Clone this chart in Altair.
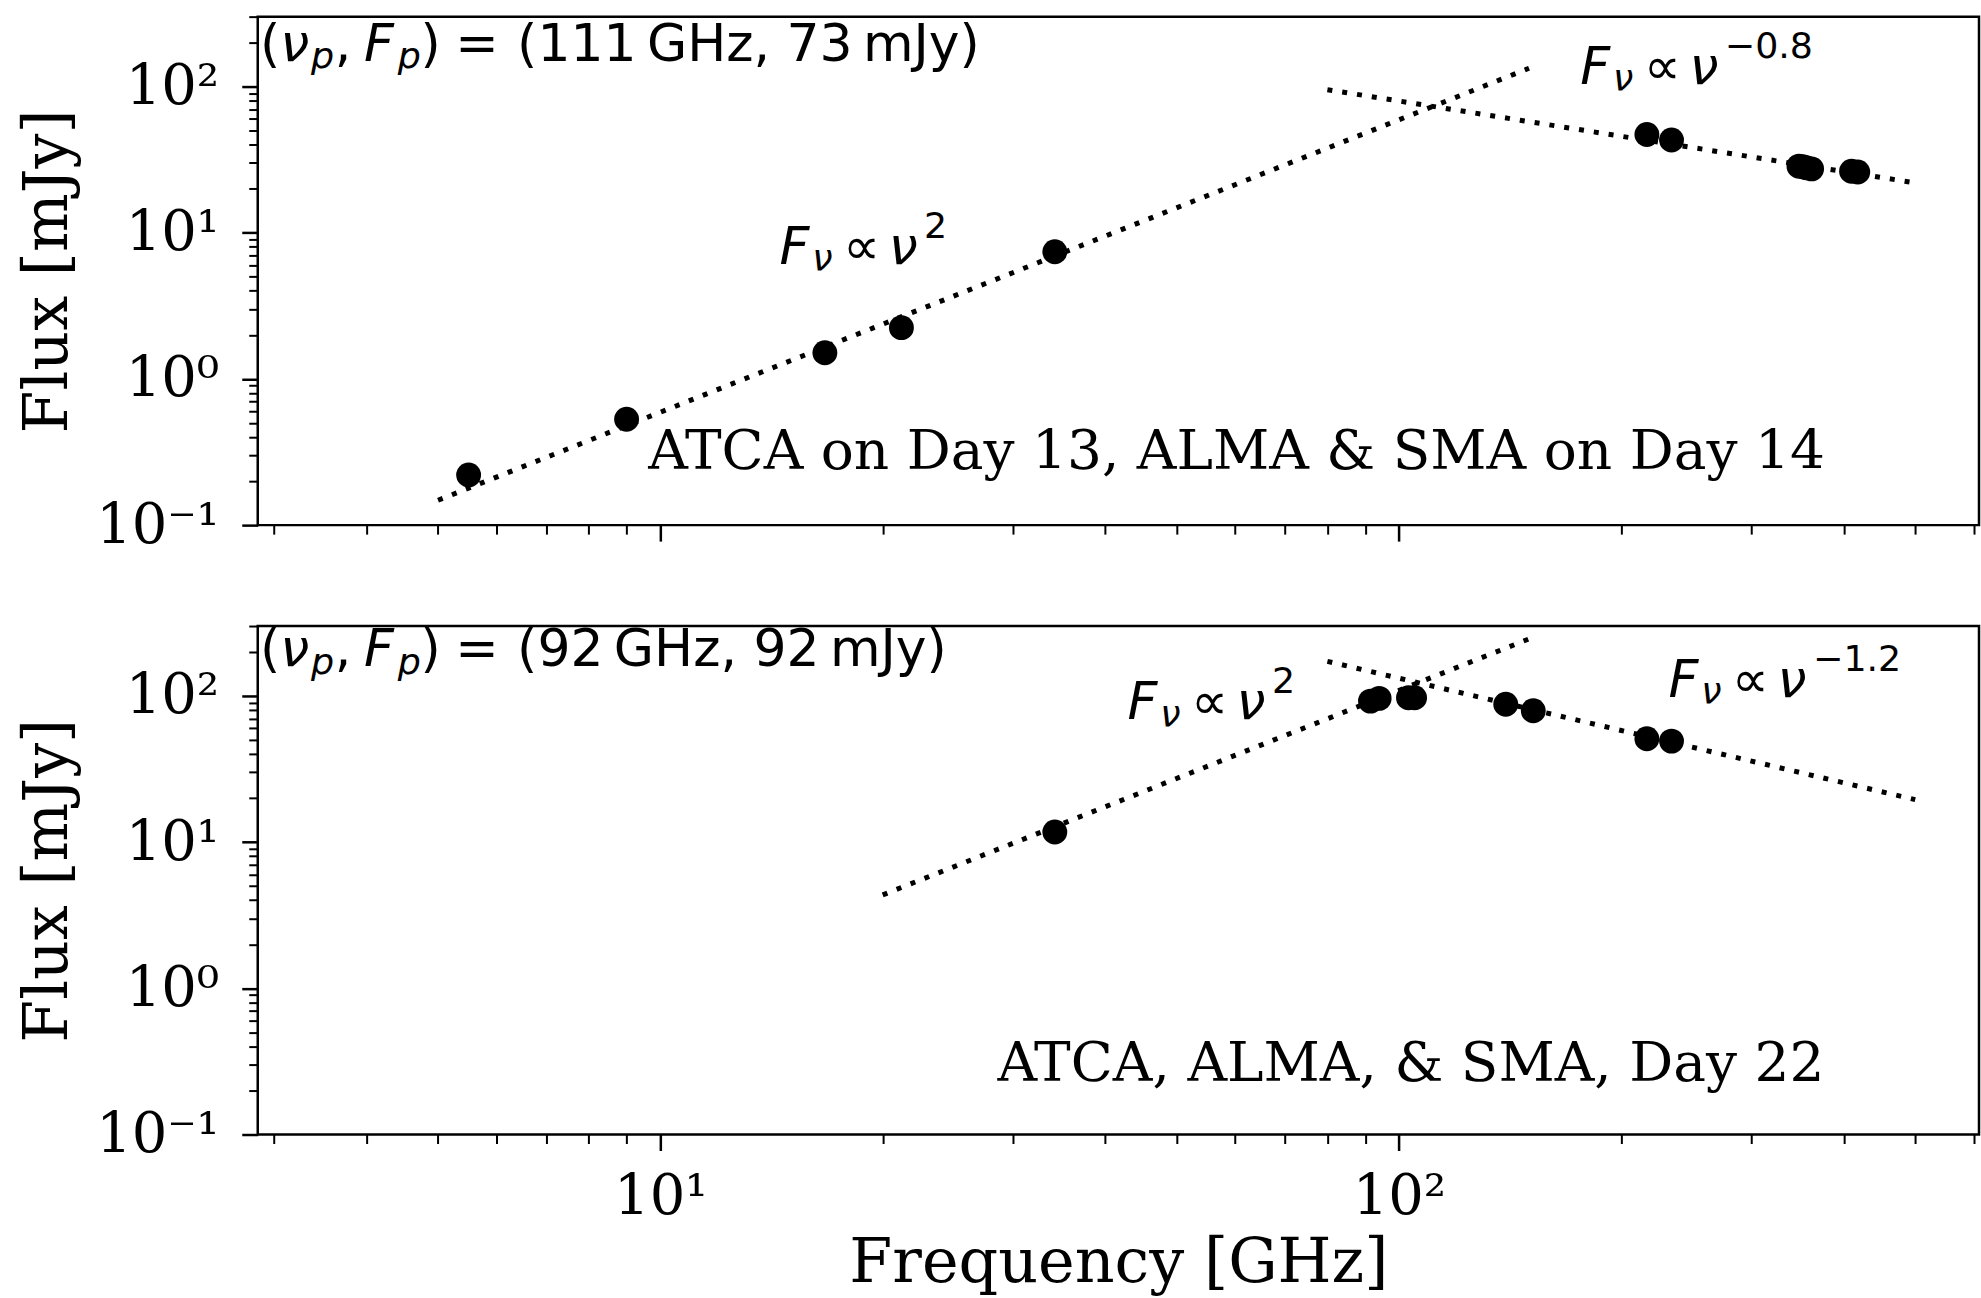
import altair as alt
import pandas as pd

# ---------------- data ----------------
top_freq = [5.5, 9.0, 16.7, 21.2, 34.2, 216.6, 233.9, 348, 352, 356, 362, 410, 418]
top_flux = [0.22, 0.53, 1.51, 2.24, 7.4, 46.9, 43.0, 28.5, 28.2, 27.8, 27.3, 26.3, 26.0]

bot_freq = [34.2, 91.5, 94.0, 103.0, 105.0, 139.5, 152.0, 216.6, 233.9]
bot_flux = [11.7, 92.0, 96.0, 97.0, 97.0, 87.5, 79.0, 50.8, 49.0]

# power-law guide lines (end points)
top_rise_freq = [5, 150]
top_rise_flux = [0.148, 133]
top_fall_freq = [80, 500]
top_fall_flux = [95, 21.9]
bot_rise_freq = [20, 150]
bot_rise_flux = [4.35, 245]
bot_fall_freq = [80, 500]
bot_fall_flux = [172, 19.5]

# axis ticks
x_ticks = [3, 4, 5, 6, 7, 8, 9, 10, 20, 30, 40, 50, 60, 70, 80, 90, 100,
           200, 300, 400, 500, 600]
y_ticks = [0.1, 0.2, 0.3, 0.4, 0.5, 0.6, 0.7, 0.8, 0.9, 1, 2, 3, 4, 5, 6, 7, 8, 9,
           10, 20, 30, 40, 50, 60, 70, 80, 90, 100, 200, 300]

X_DOMAIN = [2.85, 610]
Y_DOMAIN = [0.1, 300]

# annotation anchors (freq, flux)
top_peak_anchor = (2.87, 192)
top_rise_anchor = (14.5, 7.9)
top_fall_anchor = (176, 134)
top_note_anchor = (9.63, 0.315)
bot_peak_anchor = (2.87, 205)
bot_rise_anchor = (42.9, 88.9)
bot_fall_anchor = (231.7, 126.7)
bot_note_anchor = (28.6, 0.304)

top_peak_value = "(111\u2009GHz, 73\u2009mJy)"
bot_peak_value = "(92\u2009GHz, 92\u2009mJy)"
top_note = "ATCA on Day 13, ALMA & SMA on Day 14"
bot_note = "ATCA, ALMA, & SMA, Day 22"

# ---------------- styling ----------------
SERIF = "DejaVu Serif"
SANS = "DejaVu Sans"
TICK_FS = 56
TITLE_FS = 62
MATH_FS = 52
NOTE_FS = 55
W, H = 1723, 509

xscale = alt.Scale(type="log", domain=X_DOMAIN, nice=False)
yscale = alt.Scale(type="log", domain=Y_DOMAIN, nice=False)

major_x = "datum.value == 10 || datum.value == 100"
major_y = "datum.value == 0.1 || datum.value == 1 || datum.value == 10 || datum.value == 100"


def x_axis(show_labels):
    kw = dict(
        values=x_ticks,
        domain=False,
        grid=False,
        tickColor="black",
        tickSize={"condition": {"test": major_x, "value": 16}, "value": 9},
        tickWidth={"condition": {"test": major_x, "value": 2.5}, "value": 2},
        labelFlush=False,
        labelOverlap=False,
    )
    if show_labels:
        kw.update(
            labels=True,
            labelExpr="datum.value == 10 ? '10\u00b9' : datum.value == 100 ? '10\u00b2' : ''",
            labelFont=SERIF, labelColor="black",
            labelFontSize={"condition": {"test": major_x, "value": TICK_FS}, "value": 0},
            labelPadding=19,
            title="Frequency [GHz]", titleFont=SERIF, titleFontSize=TITLE_FS,
            titleFontWeight="normal", titleColor="black", titlePadding=8,
        )
    else:
        kw.update(labels=False, title=None)
    return alt.Axis(**kw)


y_axis = alt.Axis(
    values=y_ticks,
    domain=False,
    grid=False,
    tickColor="black",
    tickSize={"condition": {"test": major_y, "value": 16}, "value": 9},
    tickWidth={"condition": {"test": major_y, "value": 2.5}, "value": 2},
    labelExpr=("datum.value == 0.1 ? '10\u207b\u00b9' : datum.value == 1 ? '10\u2070' : "
               "datum.value == 10 ? '10\u00b9' : datum.value == 100 ? '10\u00b2' : ''"),
    labelFont=SERIF, labelColor="black",
    labelFontSize={"condition": {"test": major_y, "value": TICK_FS}, "value": 0},
    labelPadding=23, labelFlush=False, labelOverlap=False,
    title="Flux [mJy]", titleFont=SERIF, titleFontSize=TITLE_FS,
    titleFontWeight="normal", titleColor="black", titlePadding=16,
)


def composite(anchor, parts, size):
    """parts: list of (text, kind, italic, offset_em); kind in n / sub / sup"""
    df = pd.DataFrame({"freq": [anchor[0]], "flux": [anchor[1]]})
    layers = []
    for text, kind, italic, off in parts:
        s = size if kind == "n" else size * 0.7
        dy = 0 if kind == "n" else (0.24 * size if kind == "sub" else -0.40 * size)
        layers.append(
            alt.Chart(df).mark_text(
                align="left", baseline="middle", font=SANS, fontSize=s,
                fontStyle="italic" if italic else "normal", color="black",
                dx=off * size, dy=dy, text=text,
            ).encode(x=alt.X("freq:Q", scale=xscale), y=alt.Y("flux:Q", scale=yscale))
        )
    return layers


def peak_parts(value):
    return [("(", "n", False, 0.0), ("ν", "n", True, 0.39), ("p", "sub", True, 0.98),
            (",", "n", False, 1.44), ("F", "n", True, 2.00), ("p", "sub", True, 2.65),
            (")", "n", False, 3.09), ("=", "n", False, 3.76), (value, "n", False, 4.95)]


def law_parts(exp):
    return [("F", "n", True, 0.0), ("ν", "sub", True, 0.63), ("∝", "n", False, 1.22),
            ("ν", "n", True, 2.10), (exp, "sup", False, 2.78)]


def panel(freq, flux, rise_f, rise_v, fall_f, fall_v, peak_anchor, peak_value,
          rise_anchor, fall_anchor, fall_exp, note_anchor, note, show_x):
    xenc = alt.X("freq:Q", scale=xscale, axis=x_axis(show_x))
    yenc = alt.Y("flux:Q", scale=yscale, axis=y_axis)
    pts = alt.Chart(pd.DataFrame({"freq": freq, "flux": flux})).mark_point(
        shape="circle", filled=True, color="black", opacity=1, size=620
    ).encode(x=xenc, y=yenc)
    lines = []
    for lf, lv in [(rise_f, rise_v), (fall_f, fall_v)]:
        lines.append(
            alt.Chart(pd.DataFrame({"freq": lf, "flux": lv})).mark_line(
                color="black", strokeWidth=5, strokeDash=[5, 10], strokeCap="butt"
            ).encode(x=alt.X("freq:Q", scale=xscale), y=alt.Y("flux:Q", scale=yscale))
        )
    note_df = pd.DataFrame({"freq": [note_anchor[0]], "flux": [note_anchor[1]]})
    note_layer = alt.Chart(note_df).mark_text(
        align="left", baseline="middle", font=SERIF, fontSize=NOTE_FS, color="black",
        text=note,
    ).encode(x=alt.X("freq:Q", scale=xscale), y=alt.Y("flux:Q", scale=yscale))
    texts = (composite(peak_anchor, peak_parts(peak_value), MATH_FS)
             + composite(rise_anchor, law_parts("2"), MATH_FS)
             + composite(fall_anchor, law_parts(fall_exp), MATH_FS))
    return alt.layer(pts, *lines, note_layer, *texts).properties(width=W, height=H)


top = panel(top_freq, top_flux, top_rise_freq, top_rise_flux, top_fall_freq, top_fall_flux,
            top_peak_anchor, top_peak_value, top_rise_anchor, top_fall_anchor, "−0.8",
            top_note_anchor, top_note, False)
bottom = panel(bot_freq, bot_flux, bot_rise_freq, bot_rise_flux, bot_fall_freq, bot_fall_flux,
               bot_peak_anchor, bot_peak_value, bot_rise_anchor, bot_fall_anchor, "−1.2",
               bot_note_anchor, bot_note, True)

chart = alt.vconcat(top, bottom, spacing=101, bounds="flush").properties(
    padding={"left": 15, "top": 13, "right": 0, "bottom": 0},
    background="white",
).configure_view(stroke="black", strokeWidth=2.5)

chart.save("out.html", embed_options={"renderer": "svg", "actions": False})
